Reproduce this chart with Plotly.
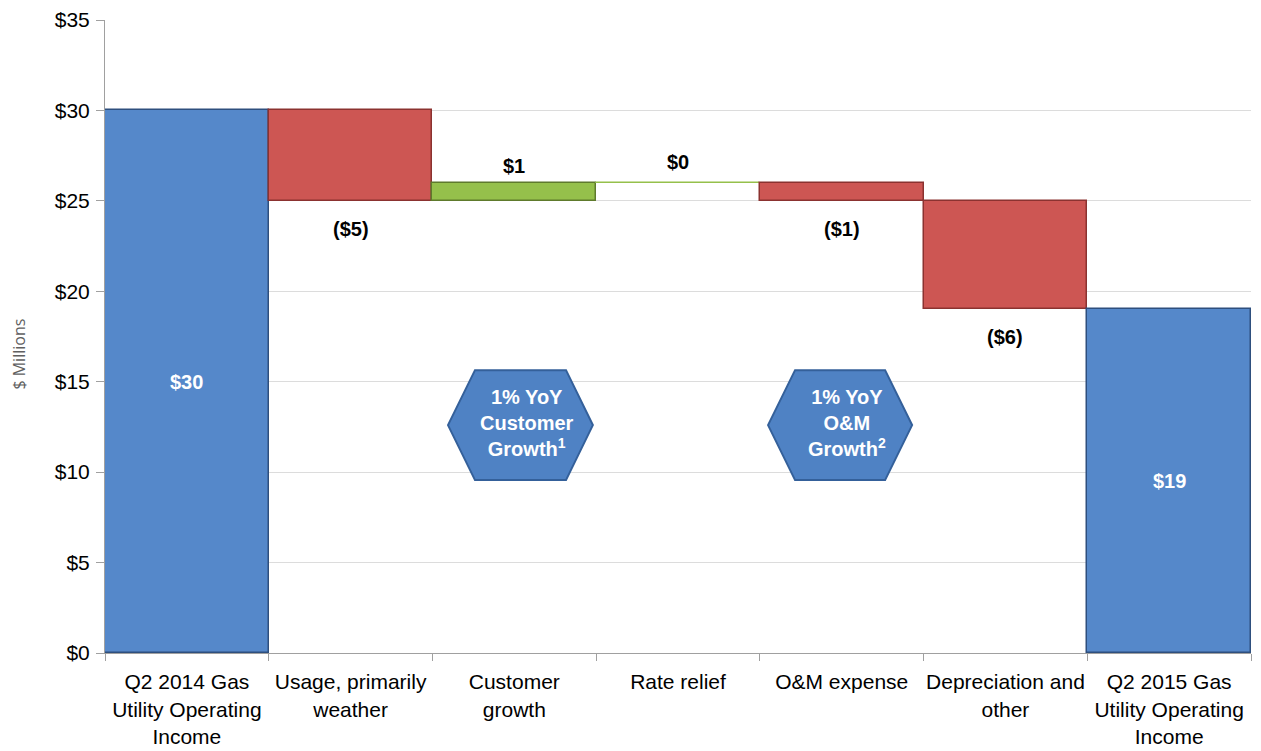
import plotly.graph_objects as go

categories = [
    "Q2 2014 Gas<br>Utility Operating<br>Income",
    "Usage, primarily<br>weather",
    "Customer<br>growth",
    "Rate relief",
    "O&M expense",
    "Depreciation and<br>other",
    "Q2 2015 Gas<br>Utility Operating<br>Income",
]
values = [30, -5, 1, 0, -1, -6, 19]
kinds = ["total", "delta", "delta", "delta", "delta", "delta", "total"]
labels = ["$30", "($5)", "$1", "$0", "($1)", "($6)", "$19"]
y_ticks = [0, 5, 10, 15, 20, 25, 30, 35]
y_tick_labels = ["$0", "$5", "$10", "$15", "$20", "$25", "$30", "$35"]

BLUE = "#5588CA"
BLUE_EDGE = "#2E4F7E"
RED = "#CD5653"
RED_EDGE = "#8B3230"
GREEN = "#95C04B"
GREEN_EDGE = "#5E7A2C"
FONT = "Liberation Sans, Arial"

bases, heights, fills, edges = [], [], [], []
running = 0.0
for v, k in zip(values, kinds):
    if k == "total":
        bases.append(0)
        heights.append(v)
        fills.append(BLUE)
        edges.append(BLUE_EDGE)
        running = v
    else:
        new = running + v
        bases.append(min(running, new))
        heights.append(abs(v))
        if v > 0:
            fills.append(GREEN); edges.append(GREEN_EDGE)
        elif v < 0:
            fills.append(RED); edges.append(RED_EDGE)
        else:
            fills.append("white"); edges.append(GREEN)
        running = new

fig = go.Figure()
fig.add_trace(go.Bar(
    x=categories, y=heights, base=bases,
    marker=dict(color=fills, line=dict(color=edges, width=1.5)),
    width=1.0, showlegend=False, hoverinfo="skip",
))

annotations = []
for i, (v, k, lab) in enumerate(zip(values, kinds, labels)):
    b, h = bases[i], heights[i]
    if k == "total":
        annotations.append(dict(x=categories[i], y=b + h / 2, text=f"<b>{lab}</b>",
                                showarrow=False, font=dict(color="white", size=20,
                                family=FONT), yanchor="middle"))
    elif v < 0:
        annotations.append(dict(x=categories[i], y=b, text=f"<b>{lab}</b>",
                                showarrow=False, font=dict(color="black", size=20,
                                family=FONT), yanchor="top",
                                yshift=-15))
    else:
        annotations.append(dict(x=categories[i], y=b + h, text=f"<b>{lab}</b>",
                                showarrow=False, font=dict(color="black", size=20,
                                family=FONT), yanchor="bottom",
                                yshift=4 if v > 0 else 8))

hexagons = [
    (1.595, 1.76, 2.316, 2.48, "1% YoY<br>Customer<br>Growth<sup>1</sup>"),
    (3.55, 3.715, 4.265, 4.43, "1% YoY<br>O&M<br>Growth<sup>2</sup>"),
]
y_top, y_bot = 15.64, 9.56
y_mid = (y_top + y_bot) / 2
shapes = []
for x0, x1, x2, x3, txt in hexagons:
    path = (f"M {x0},{y_mid} L {x1},{y_top} L {x2},{y_top} L {x3},{y_mid} "
            f"L {x2},{y_bot} L {x1},{y_bot} Z")
    shapes.append(dict(type="path", path=path, xref="x", yref="y",
                       fillcolor="#4F82C4", line=dict(color="#34609A", width=2),
                       layer="above"))
    annotations.append(dict(x=(x0 + x3) / 2 + 0.04, y=y_mid + 0.1, xref="x", yref="y",
                            text=f"<b>{txt}</b>", showarrow=False,
                            font=dict(color="white", size=20, family=FONT),
                            align="center", yanchor="middle"))

# y-axis title as rotated text
annotations.append(dict(x=0, xref="paper", y=16.5, yref="y", xshift=-86,
                        text="$ Millions", textangle=-90, showarrow=False,
                        font=dict(size=16, family="Open Sans", color="#606060"),
                        xanchor="center", yanchor="middle"))

# page body has an 8px margin, so the figure is sized/offset accordingly
fig.update_layout(
    width=1253, height=743,
    margin=dict(l=97, r=10, t=12, b=98, autoexpand=False),
    paper_bgcolor="white", plot_bgcolor="white",
    bargap=0,
    shapes=shapes,
    annotations=annotations,
    font=dict(family=FONT, color="black"),
)
fig.update_xaxes(
    type="category", tickson="boundaries", ticks="outside", ticklen=7,
    tickcolor="#A0A0A0", showline=True, linecolor="#A0A0A0", linewidth=1,
    tickfont=dict(size=21, family=FONT, color="black"), tickangle=0,
    range=[-0.5, 6.5], showgrid=False, automargin=False, ticklabelstandoff=10,
)
fig.update_yaxes(
    range=[0, 35], tickvals=y_ticks, ticktext=y_tick_labels,
    ticks="outside", ticklen=8, tickcolor="#A0A0A0",
    showline=True, linecolor="#A0A0A0", linewidth=1,
    showgrid=True, gridcolor="#DCDCDC", gridwidth=1,
    tickfont=dict(size=21, family=FONT, color="black"),
    zeroline=False, automargin=False, ticklabelstandoff=2,
)

fig.write_html("out.html")
